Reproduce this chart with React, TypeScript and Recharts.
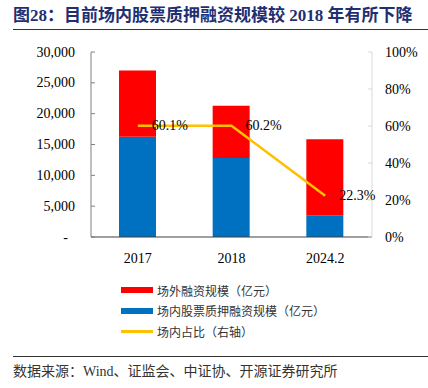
import React from "react";
import {
  ComposedChart,
  Bar,
  Line,
  XAxis,
  YAxis,
  LabelList,
} from "recharts";

const categories = ["2017", "2018", "2024.2"];
const offExchange = [10740, 8480, 12310]; // 场外融资规模（亿元）
const onExchange = [16260, 12820, 3540]; // 场内股票质押融资规模（亿元）
const onShare = [60.1, 60.2, 22.3]; // 场内占比（%）
const leftTicks = [0, 5000, 10000, 15000, 20000, 25000, 30000];
const rightTicks = [0, 20, 40, 60, 80, 100];

const serif = '"Times New Roman", "Liberation Serif", "Noto Sans CJK SC", serif';

const data = categories.map((name, i) => ({
  name,
  off: offExchange[i],
  on: onExchange[i],
  share: onShare[i],
}));

const LeftTick = (props: any) => {
  const { x, y, payload } = props;
  const v = payload.value;
  return (
    <text
      x={v === 0 ? x - 7 : x}
      y={y}
      textAnchor="end"
      dominantBaseline="central"
      fontSize={14}
      fontFamily={serif}
      fill="#000"
    >
      {v === 0 ? "-" : v.toLocaleString("en-US")}
    </text>
  );
};

const ShareLabel = (props: any) => {
  const { x, y, value } = props;
  return (
    <text
      x={x + 14}
      y={y}
      dominantBaseline="central"
      fontSize={14}
      fontFamily={serif}
      fill="#000"
    >
      {value.toFixed(1) + "%"}
    </text>
  );
};

const legendItems = [
  { label: "场外融资规模（亿元）", color: "#FF0000", h: 6 },
  { label: "场内股票质押融资规模（亿元）", color: "#0070C0", h: 6 },
  { label: "场内占比（右轴）", color: "#FFC000", h: 3 },
];

export default function App() {
  return (
    <div
      style={{
        position: "fixed",
        left: 0,
        top: 0,
        width: 428,
        height: 388,
        background: "#fff",
        fontFamily: serif,
      }}
    >
      <div
        style={{
          position: "absolute",
          left: 13,
          top: 5,
          fontSize: 17,
          fontWeight: "bold",
          color: "#1F2F72",
          whiteSpace: "nowrap",
          lineHeight: "22px",
        }}
      >
        图28：目前场内股票质押融资规模较 2018 年有所下降
      </div>
      <div
        style={{
          position: "absolute",
          left: 13,
          top: 29,
          width: 415,
          height: 1,
          background: "#333",
        }}
      />
      <div style={{ position: "absolute", left: 0, top: 0 }}>
        <ComposedChart
          width={428}
          height={270}
          data={data}
          margin={{ top: 52, right: 0, bottom: 3, left: 0 }}
        >
          <XAxis
            dataKey="name"
            height={30}
            axisLine={{ stroke: "#404040" }}
            tickLine={false}
            tick={{ fontSize: 14, fontFamily: serif, fill: "#000" }}
            tickMargin={10}
          />
          <YAxis
            yAxisId="left"
            width={91}
            domain={[0, 30000]}
            ticks={leftTicks}
            interval={0}
            axisLine={{ stroke: "#808080" }}
            tickLine={{ stroke: "#808080" }}
            tickSize={-4}
            tickMargin={20}
            tick={<LeftTick />}
          />
          <YAxis
            yAxisId="right"
            orientation="right"
            width={56}
            domain={[0, 100]}
            ticks={rightTicks}
            interval={0}
            tickFormatter={(v: number) => v + "%"}
            axisLine={{ stroke: "#D9D9D9" }}
            tickLine={{ stroke: "#D9D9D9" }}
            tickSize={-4}
            tickMargin={17}
            tick={{ fontSize: 14, fontFamily: serif, fill: "#000" }}
          />
          <Bar
            yAxisId="left"
            dataKey="on"
            stackId="a"
            fill="#0070C0"
            barSize={37}
            isAnimationActive={false}
          />
          <Bar
            yAxisId="left"
            dataKey="off"
            stackId="a"
            fill="#FF0000"
            barSize={37}
            isAnimationActive={false}
          />
          <Line
            yAxisId="right"
            dataKey="share"
            stroke="#FFC000"
            strokeWidth={2.5}
            dot={false}
            isAnimationActive={false}
          >
            <LabelList dataKey="share" content={<ShareLabel />} />
          </Line>
        </ComposedChart>
      </div>
      {legendItems.map((it, i) => (
        <div
          key={it.label}
          style={{
            position: "absolute",
            left: 121,
            top: 280 + i * 20.5,
            height: 20,
            display: "flex",
            alignItems: "center",
            whiteSpace: "nowrap",
          }}
        >
          <div style={{ width: 32, height: it.h, background: it.color }} />
          <span
            style={{
              marginLeft: 4,
              fontSize: 12,
              color: "#333",
              fontFamily: '"Noto Sans CJK SC", sans-serif',
            }}
          >
            {it.label}
          </span>
        </div>
      ))}
      <div
        style={{
          position: "absolute",
          left: 13,
          top: 356,
          width: 415,
          height: 1,
          background: "#333",
        }}
      />
      <div
        style={{
          position: "absolute",
          left: 13,
          top: 362,
          fontSize: 14,
          lineHeight: "20px",
          color: "#333",
          whiteSpace: "nowrap",
        }}
      >
        数据来源：Wind、证监会、中证协、开源证券研究所
      </div>
    </div>
  );
}
